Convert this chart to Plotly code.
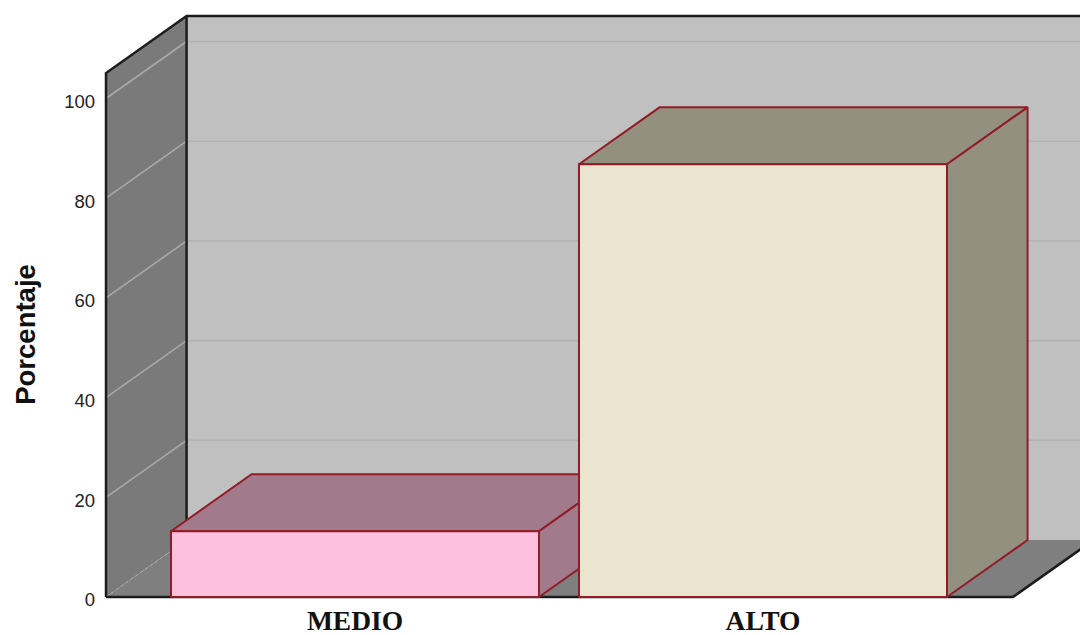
import plotly.graph_objects as go

# Chart data
categories = ["MEDIO", "ALTO"]
percentages = [13.2, 86.8]
y_ticks = [0, 20, 40, 60, 80, 100]

# Colours per bar: front face, shaded top/side faces
front_colors = ["#fec0df", "#ebe5cf"]
shade_colors = ["#a17a8b", "#94907f"]
EDGE = "#921c28"
BLACK = "#1c1c1c"

# Axis extents and the oblique depth of the box, in data units
X_MIN, X_MAX = -0.6103, 1.777
Y_MAX = 117.75
PX_X, PX_Y = 408, 4.985  # pixels per data unit
PAD = 6  # room around the box so its outline is not clipped
FLOOR_END = 1.6127
AXIS_TOP = 105.1
DEPTH_X = 0.1975
DEPTH_Y = 11.43
BAR_HALF = 0.451

fig = go.Figure()


def poly(xs, ys, fill=None, color=None, width=1.0, dash=None):
    """Add a closed or open outline in data coordinates."""
    fig.add_trace(go.Scatter(
        x=xs, y=ys, mode="lines", hoverinfo="skip", showlegend=False,
        fill="toself" if fill else "none", fillcolor=fill,
        line=dict(color=color or "rgba(0,0,0,0)", width=width, dash=dash),
    ))


back_left = X_MIN + DEPTH_X
back_right = FLOOR_END + DEPTH_X

# Back wall, side wall and floor
poly([back_left, back_right, back_right, back_left, back_left],
     [DEPTH_Y, DEPTH_Y, AXIS_TOP + DEPTH_Y, AXIS_TOP + DEPTH_Y, DEPTH_Y], fill="#c0c0c0")
poly([X_MIN, back_left, back_left, X_MIN, X_MIN],
     [0, DEPTH_Y, AXIS_TOP + DEPTH_Y, AXIS_TOP, 0], fill="#7a7a7a")
poly([X_MIN, FLOOR_END, back_right, back_left, X_MIN],
     [0, 0, DEPTH_Y, DEPTH_Y, 0], fill="#7f7f7f")

# Gridlines across both walls; the zero line is only a dotted floor edge
for tick in y_ticks:
    if tick == 0:
        poly([X_MIN, back_left], [0, DEPTH_Y], color="#b0b0b0", width=1, dash="dot")
        continue
    poly([X_MIN, back_left], [tick, tick + DEPTH_Y], color="#a9a9a9", width=1.6)
    poly([back_left, back_right], [tick + DEPTH_Y, tick + DEPTH_Y], color="#b2b2b2", width=1.6)

# Box outline
poly([X_MIN, X_MIN, back_left, back_right],
     [0, AXIS_TOP, AXIS_TOP + DEPTH_Y, AXIS_TOP + DEPTH_Y], color=BLACK, width=2.5)
poly([back_left, back_left], [DEPTH_Y, AXIS_TOP + DEPTH_Y], color=BLACK, width=2.5)
poly([X_MIN, FLOOR_END, back_right], [0, 0, DEPTH_Y], color=BLACK, width=2.5)

# Bars, each one a front face plus oblique top and side faces
for i, value in enumerate(percentages):
    left, right = i - BAR_HALF, i + BAR_HALF
    poly([left, right, right + DEPTH_X, left + DEPTH_X, left],
         [value, value, value + DEPTH_Y, value + DEPTH_Y, value],
         fill=shade_colors[i], color=EDGE, width=2)
    poly([right, right + DEPTH_X, right + DEPTH_X, right, right],
         [0, DEPTH_Y, value + DEPTH_Y, value, 0],
         fill=shade_colors[i], color=EDGE, width=2)
    poly([left, right, right, left, left],
         [0, 0, value, value, 0],
         fill=front_colors[i], color=EDGE, width=2)

fig.add_annotation(
    text="<b>Porcentaje</b>", textangle=-90, showarrow=False,
    xref="paper", x=(26 - 100) / 980, xanchor="center",
    yref="y", y=52.6, yanchor="middle",
    font=dict(family="Liberation Sans", size=27.5, color="#111111"),
)

fig.update_layout(
    width=1080, height=635,
    margin=dict(l=100, r=0, t=10, b=32, autoexpand=False),
    paper_bgcolor="white", plot_bgcolor="white",
    xaxis=dict(
        range=[X_MIN - PAD / PX_X, X_MAX], showgrid=False, zeroline=False, showline=False,
        automargin=False,
        tickmode="array", tickvals=[0, 1], ticktext=categories, ticks="",
        ticklabelstandoff=-2,
        tickfont=dict(family="Liberation Serif", size=27.5, weight="bold", color="#111111"),
    ),
    yaxis=dict(
        range=[-PAD / PX_Y, Y_MAX], showgrid=False, zeroline=False, showline=False,
        automargin=False,
        tickmode="array", tickvals=y_ticks, ticks="",
        ticklabelshift=3, ticklabelstandoff=4,
        tickfont=dict(family="Liberation Sans", size=18.5, color="#222222"),
    ),
)

fig.write_html("out.html")
